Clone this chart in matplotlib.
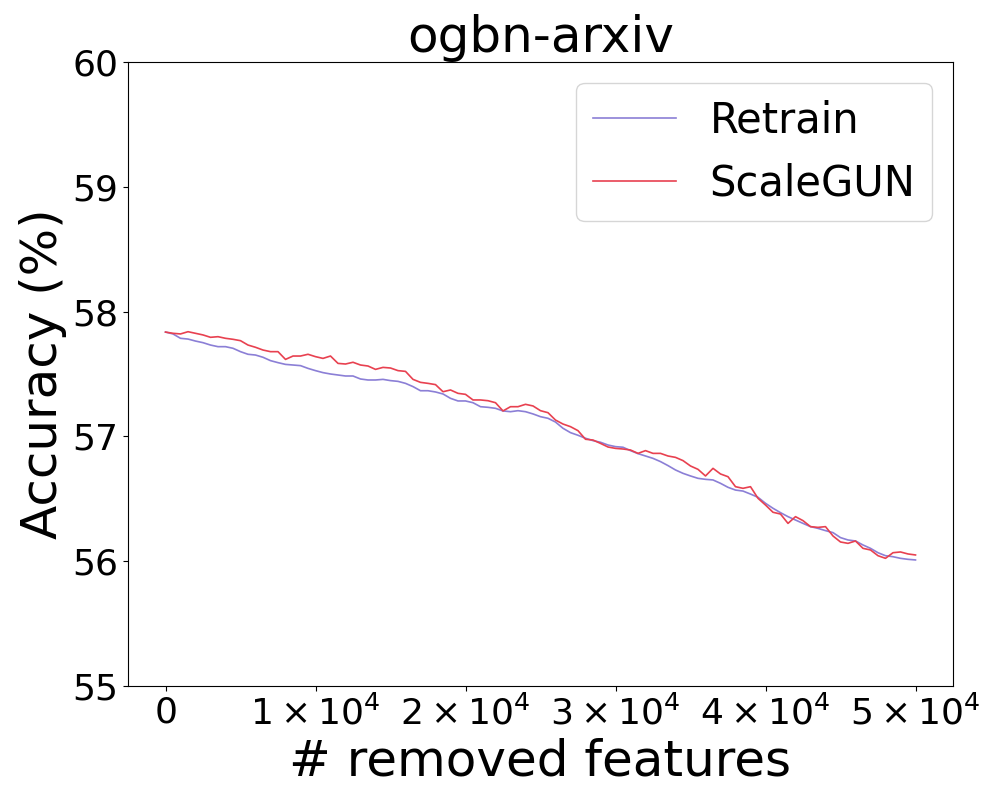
import numpy as np
import matplotlib
matplotlib.use("Agg")
import matplotlib.pyplot as plt
from matplotlib.ticker import FuncFormatter

# number of removed features (every 500)
removed = np.arange(0, 50001, 500)

# accuracy (%), one value per 500 removed features
retrain = [
    57.836, 57.821, 57.786, 57.780, 57.764, 57.751, 57.732, 57.719, 57.719, 57.706,
    57.679, 57.658, 57.652, 57.634, 57.607, 57.591, 57.577, 57.572, 57.567, 57.545,
    57.527, 57.511, 57.500, 57.492, 57.484, 57.484, 57.460, 57.452, 57.452, 57.457,
    57.447, 57.441, 57.425, 57.399, 57.366, 57.366, 57.356, 57.340, 57.305, 57.284,
    57.284, 57.270, 57.238, 57.233, 57.225, 57.204, 57.198, 57.206, 57.198, 57.180,
    57.158, 57.145, 57.115, 57.065, 57.030, 57.009, 56.985, 56.966, 56.953, 56.931,
    56.918, 56.913, 56.886, 56.862, 56.843, 56.824, 56.798, 56.766, 56.731, 56.704,
    56.683, 56.664, 56.656, 56.651, 56.624, 56.592, 56.570, 56.562, 56.538, 56.512,
    56.464, 56.424, 56.389, 56.357, 56.330, 56.303, 56.277, 56.263, 56.245, 56.229,
    56.189, 56.170, 56.162, 56.130, 56.103, 56.068, 56.044, 56.036, 56.023, 56.015,
    56.010,
]
scalegun = [
    57.836, 57.826, 57.821, 57.839, 57.826, 57.813, 57.794, 57.799, 57.786, 57.778,
    57.767, 57.732, 57.714, 57.692, 57.679, 57.679, 57.617, 57.644, 57.644, 57.658,
    57.639, 57.625, 57.644, 57.585, 57.580, 57.594, 57.572, 57.564, 57.537, 57.553,
    57.548, 57.527, 57.521, 57.457, 57.433, 57.425, 57.415, 57.358, 57.372, 57.345,
    57.337, 57.292, 57.292, 57.286, 57.270, 57.204, 57.238, 57.238, 57.257, 57.244,
    57.206, 57.190, 57.131, 57.099, 57.078, 57.046, 56.977, 56.971, 56.944, 56.915,
    56.904, 56.899, 56.891, 56.864, 56.886, 56.864, 56.864, 56.843, 56.832, 56.806,
    56.763, 56.736, 56.683, 56.744, 56.699, 56.677, 56.597, 56.584, 56.597, 56.504,
    56.450, 56.392, 56.378, 56.303, 56.357, 56.325, 56.277, 56.271, 56.277, 56.202,
    56.154, 56.143, 56.162, 56.103, 56.090, 56.044, 56.023, 56.068, 56.074, 56.058,
    56.050,
]

fig, ax = plt.subplots(figsize=(10, 8), dpi=100)
fig.subplots_adjust(left=0.128, right=0.953, bottom=0.1425, top=0.9225)

ax.plot(removed, retrain[:len(removed)], color="#8B7FD6", linewidth=1.2, label="Retrain")
ax.plot(removed, scalegun[:len(removed)], color="#E84150", linewidth=1.2, label="ScaleGUN")

ax.set_ylim(55, 60)
ax.set_yticks([55, 56, 57, 58, 59, 60])
ax.set_xticks([0, 10000, 20000, 30000, 40000, 50000])


def sci_fmt(v, pos):
    if v == 0:
        return r"$\mathdefault{0}$"
    return r"$\mathdefault{%d\times10^{4}}$" % round(v / 1e4)


ax.xaxis.set_major_formatter(FuncFormatter(sci_fmt))
ax.tick_params(axis="both", labelsize=26)

ax.set_title("ogbn-arxiv", fontsize=36)
ax.set_xlabel("# removed features", fontsize=36)
ax.set_ylabel("Accuracy (%)", fontsize=36)
ax.legend(loc="upper right", fontsize=30)

plt.savefig("out.png")
plt.close()
